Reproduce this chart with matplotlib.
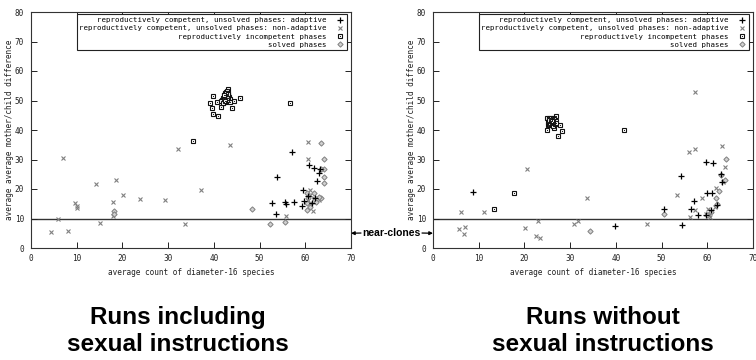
import matplotlib
matplotlib.use("Agg")
import matplotlib.pyplot as plt
from matplotlib.legend_handler import HandlerTuple

# ---------------- data: runs including sexual instructions ----------------
inc_adaptive_x = [57.0, 53.9, 52.7, 53.5, 55.6, 55.7, 57.6, 59.4, 59.2, 59.8, 60.9, 61.9,
                  62.6, 63.0, 62.1, 61.4, 60.7, 63.2]
inc_adaptive_y = [32.7, 24.0, 15.1, 11.4, 15.5, 14.9, 15.5, 19.8, 14.2, 16.1, 28.2, 27.2,
                  22.6, 25.5, 17.0, 15.1, 17.6, 26.9]

inc_nonadaptive_x = [4.3, 5.8, 7.1, 8.0, 9.7, 10.1, 10.1, 14.2, 15.1, 18.0, 18.0, 18.7, 20.1,
                     23.8, 29.3, 32.1, 33.6, 37.2, 43.5, 55.7, 60.5, 60.5, 61.0, 61.0, 61.6,
                     62.1, 62.9, 60.5, 61.8, 61.0]
inc_nonadaptive_y = [5.3, 9.7, 30.6, 5.8, 15.3, 14.3, 13.4, 21.8, 8.4, 15.5, 11.0, 23.0, 18.0,
                     16.6, 16.2, 33.5, 8.1, 19.5, 34.9, 11.0, 35.8, 30.1, 19.6, 17.9, 12.7,
                     15.7, 16.2, 16.2, 17.0, 15.1]

inc_incompetent_x = [35.5, 39.9, 39.2, 39.5, 39.9, 40.8, 41.5, 43.9, 44.3, 45.8, 43.0, 40.6,
                     56.7,
                     41.8, 42.0, 42.2, 42.4, 42.6, 42.8, 43.0, 43.2, 43.4, 42.5, 42.9, 43.1,
                     42.3, 42.7, 43.3, 41.9, 42.1, 42.6, 43.0, 43.5, 42.4, 42.8, 41.6, 43.6,
                     42.0, 42.5, 42.7, 42.9, 43.1, 42.3, 42.6, 42.8, 43.2, 42.2, 42.4]
inc_incompetent_y = [36.2, 51.6, 49.0, 47.6, 45.4, 44.7, 47.9, 47.6, 49.9, 50.9, 53.8, 49.6,
                     49.0,
                     50.2, 51.0, 51.8, 52.5, 52.9, 53.2, 52.6, 51.9, 51.2, 50.4, 50.8, 50.1,
                     49.6, 49.4, 49.8, 49.3, 50.6, 51.5, 51.4, 50.6, 51.2, 52.2, 49.9, 49.4,
                     49.0, 51.8, 52.4, 51.7, 50.9, 50.9, 50.0, 50.3, 52.3, 52.0, 49.9]

inc_solved_x = [18.2, 18.2, 48.3, 52.3, 55.6, 63.5, 64.0, 64.0, 63.4, 64.0, 64.0, 63.4, 62.4,
                61.8, 60.3, 60.7, 60.3, 60.3, 61.0, 62.9]
inc_solved_y = [12.7, 11.5, 13.1, 8.2, 8.7, 35.5, 30.2, 26.9, 26.7, 24.1, 22.1, 17.1, 15.7,
                18.7, 18.7, 17.0, 15.1, 12.9, 13.8, 17.4]

# ---------------- data: runs without sexual instructions ----------------
exc_adaptive_x = [8.8, 39.8, 50.5, 54.3, 54.4, 56.5, 57.1, 58.0, 59.7, 61.3, 60.0, 61.1, 63.1,
                  62.2, 60.8, 59.8, 63.2]
exc_adaptive_y = [19.1, 7.3, 13.1, 24.3, 7.7, 13.1, 15.9, 11.2, 29.1, 28.9, 18.8, 18.5, 25.2,
                  14.6, 12.9, 11.2, 22.4]

exc_nonadaptive_x = [5.6, 7.1, 6.8, 6.2, 11.2, 20.1, 20.5, 22.6, 22.9, 23.3, 30.9, 31.8, 33.7,
                     46.8, 53.4, 56.0, 57.3, 58.8, 56.2, 57.3, 60.2, 59.8, 60.4, 61.8, 63.3,
                     63.8, 63.5, 60.9, 61.6, 60.5, 57.4]
exc_nonadaptive_y = [6.5, 7.1, 4.7, 12.1, 12.1, 6.9, 26.7, 4.1, 9.3, 3.4, 8.1, 9.1, 16.9,
                     8.2, 17.8, 32.6, 33.7, 17.1, 10.4, 12.9, 13.1, 11.5, 11.2, 20.2, 34.5,
                     27.4, 22.4, 12.7, 13.8, 10.6, 53.0]

exc_incompetent_x = [13.3, 17.7, 41.8, 24.9, 26.5, 27.4, 28.3, 27.7, 27.0,
                     25.0, 25.3, 25.6, 25.9, 26.2, 26.5, 26.8, 25.2, 25.5, 25.8, 26.1, 26.4,
                     26.7, 25.1, 25.4, 25.7, 26.0, 26.3, 26.6, 26.9, 25.6, 26.1, 25.4, 25.8,
                     26.2, 26.0]
exc_incompetent_y = [13.1, 18.8, 40.1, 40.1, 40.6, 37.8, 39.8, 41.8, 44.7,
                     43.9, 44.1, 43.8, 44.2, 43.9, 43.6, 43.2, 42.8, 43.0, 42.6, 42.9, 42.4,
                     42.1, 41.8, 41.6, 42.0, 41.7, 41.5, 41.9, 42.5, 43.3, 43.5, 43.3, 43.1,
                     42.7, 43.0]

exc_solved_x = [34.3, 50.5, 64.0, 63.8, 62.5, 61.8, 62.2, 60.9, 63.1, 60.0]
exc_solved_y = [5.6, 11.4, 30.2, 23.0, 19.4, 16.8, 14.9, 12.3, 24.6, 11.2]

legend_labels = [
    "reproductively competent, unsolved phases: adaptive",
    "reproductively competent, unsolved phases: non-adaptive",
    "reproductively incompetent phases",
    "solved phases",
]
panel_titles = ["Runs including\nsexual instructions", "Runs without\nsexual instructions"]
near_clone_level = 10
near_clone_label = "near-clones"
x_ticks = list(range(0, 71, 10))
y_ticks = list(range(0, 81, 10))

MONO = "DejaVu Sans Mono"
GREY = "#808080"

W, H = 756, 360
fig = plt.figure(figsize=(W / 100, H / 100), dpi=100)


def px_axes(x0, x1, y0, y1):
    return fig.add_axes([x0 / W, 1 - y1 / H, (x1 - x0) / W, (y1 - y0) / H])


def draw_panel(ax, ad, na, inc, sol):
    ax.axhline(near_clone_level, color="#333333", lw=1.0, zorder=1)
    h_ad, = ax.plot(ad[0], ad[1], ls="none", marker="+", ms=4.2, mew=0.9, color="black", zorder=4)
    h_na, = ax.plot(na[0], na[1], ls="none", marker="x", ms=3.2, mew=0.8, color=GREY, zorder=3)
    h_in, = ax.plot(inc[0], inc[1], ls="none", marker="s", ms=3.3, mew=0.8, mfc="white",
                    mec="#111111", zorder=3)
    h_dot, = ax.plot(inc[0], inc[1], ls="none", marker="s", ms=0.7, mew=0, color="#222222",
                     zorder=3)
    h_so, = ax.plot(sol[0], sol[1], ls="none", marker="D", ms=2.7, mew=0.7, mfc="#d0d0d0",
                    mec=GREY, zorder=3)
    ax.set_xlim(0, 70)
    ax.set_ylim(0, 80)
    ax.set_xticks(x_ticks)
    ax.set_yticks(y_ticks)
    ax.tick_params(direction="in", length=4, width=0.7, top=True, right=True,
                   labelsize=5.6, colors="#222222")
    ax.tick_params(axis="y", pad=5)
    ax.tick_params(axis="x", pad=4)
    for lab in ax.get_xticklabels() + ax.get_yticklabels():
        lab.set_family(MONO)
    for s in ax.spines.values():
        s.set_linewidth(0.8)
        s.set_color("#333333")
    ax.set_xlabel("average count of diameter-16 species", family=MONO, fontsize=5.6,
                  labelpad=4, color="#222222")
    ax.set_ylabel("average average mother/child difference", family=MONO, fontsize=5.6,
                  labelpad=0.5, color="#222222")
    leg = ax.legend([h_ad, h_na, (h_in, h_dot), h_so], legend_labels,
                    handler_map={tuple: HandlerTuple(ndivide=1)},
                    loc="upper right", bbox_to_anchor=(0.988, 0.99), markerfirst=False,
                    frameon=True, fancybox=False, framealpha=1, edgecolor="#222222",
                    prop={"family": MONO, "size": 5.3}, labelspacing=0.28,
                    handlelength=1.2, handletextpad=1.2, borderpad=0.35, borderaxespad=0)
    leg.get_frame().set_linewidth(0.8)
    leg.set_zorder(10)


ax1 = px_axes(31, 351, 12, 248)
ax2 = px_axes(433, 753, 12, 248)
draw_panel(ax1, (inc_adaptive_x, inc_adaptive_y), (inc_nonadaptive_x, inc_nonadaptive_y),
           (inc_incompetent_x, inc_incompetent_y), (inc_solved_x, inc_solved_y))
draw_panel(ax2, (exc_adaptive_x, exc_adaptive_y), (exc_nonadaptive_x, exc_nonadaptive_y),
           (exc_incompetent_x, exc_incompetent_y), (exc_solved_x, exc_solved_y))

# near-clones label between the panels, with arrows to both axes
label_y = 1 - 233 / H
t = fig.text(391.5 / W, label_y, near_clone_label, ha="center", va="center",
             family="Liberation Sans", weight="bold", fontsize=7.5)
arrow = dict(arrowstyle="-|>", color="black", lw=0.9, mutation_scale=5,
             shrinkA=1, shrinkB=0)
ax1.annotate("", xy=(70, 5), xycoords="data", xytext=(0, 0.5), textcoords=t,
             arrowprops=arrow, annotation_clip=False)
ax2.annotate("", xy=(0, 5), xycoords="data", xytext=(1, 0.5), textcoords=t,
             arrowprops=arrow, annotation_clip=False)

# panel captions
for cx, title in zip([178, 603], panel_titles):
    fig.text(cx / W, 1 - 331 / H, title, ha="center", va="center",
             family="Liberation Sans", weight="bold", fontsize=17.5, linespacing=1.2)

fig.savefig("out.png", dpi=100)
